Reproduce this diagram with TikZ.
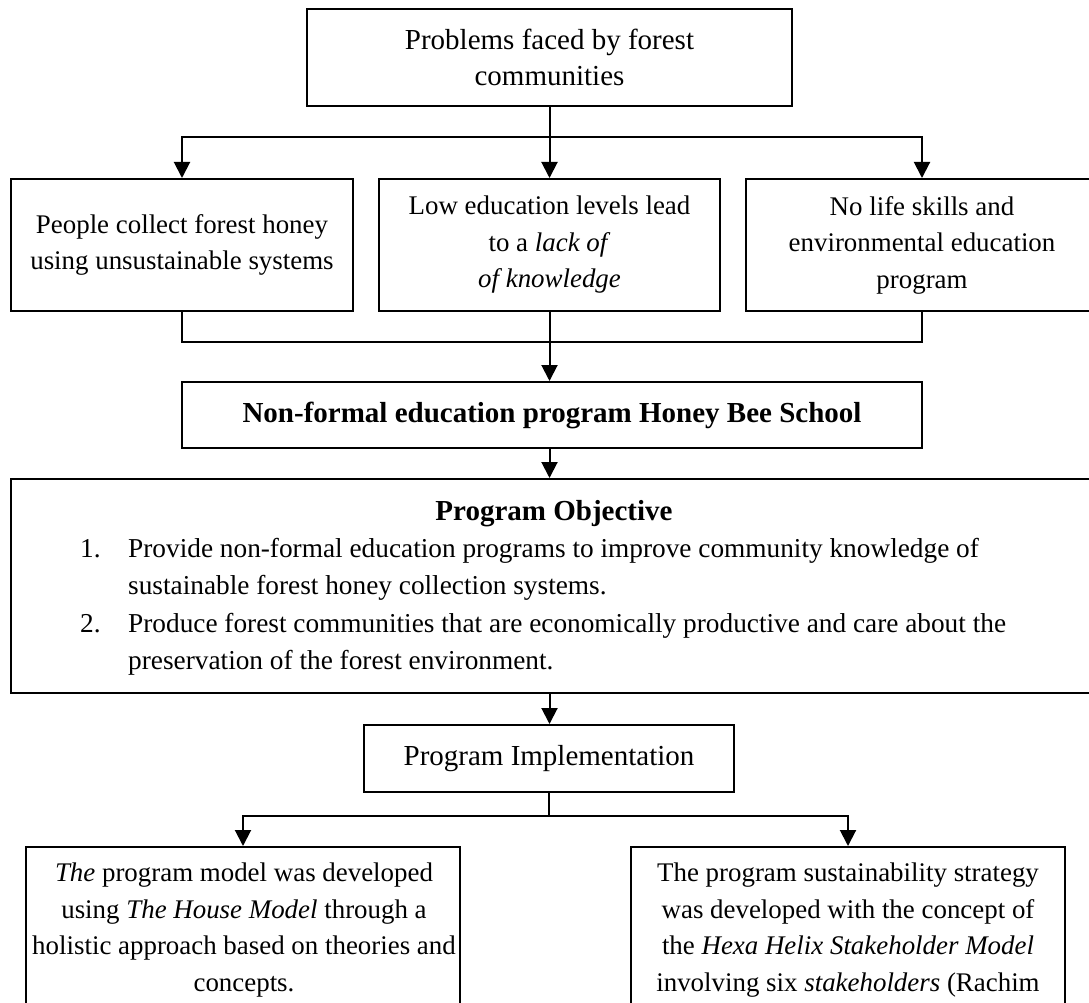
\documentclass[tikz,border=0pt]{standalone}
\usepackage{fontspec}
\setmainfont{Liberation Serif}
\usetikzlibrary{arrows.meta}
\begin{document}
\begin{tikzpicture}[x=1pt,y=-1pt,
  every node/.style={font=\fontsize{29}{36.5}\selectfont, inner sep=0pt},
  small/.style={font=\fontsize{26.9}{36.5}\selectfont},
  body/.style={font=\fontsize{27.3}{37}\selectfont},
  box/.style={draw=black, line width=2pt},
  txt/.style={align=center},
  conn/.style={line width=2pt},
  arr/.style={line width=2pt, -{Triangle[length=16pt,width=16pt]}}]
\clip (0,0) rectangle (1089,1003);
\fill[white] (0,0) rectangle (1089,1003);
\coordinate (spine) at (549.5,0);
% boxes
\node[box, txt, minimum width=485pt, minimum height=97pt] (top) at (549.5,57.5)
  {Problems faced by forest\\communities};
\node[box, txt, small, minimum width=342pt, minimum height=132pt] (b1) at (182,245)
  {People collect forest honey\\using unsustainable systems};
\node[box, txt, small, minimum width=341pt, minimum height=132pt] (b2) at (549.5,245)
  {Low education levels lead\\to a \textit{lack of}\\\textit{of knowledge}};
\node[box, txt, small, minimum width=352pt, minimum height=132pt] (b3) at (922,245)
  {No life skills and\\environmental education\\program};
\node[box, minimum width=740pt, minimum height=66pt] (nfe) at (552,415)
  {\textbf{Non-formal education program Honey Bee School}};
\node[box, minimum width=1086pt, minimum height=214pt] (obj) at (554,586) {};
\node[anchor=base] (objt) at (554,520) {\textbf{Program Objective}};
\node[body, anchor=base west] (n1) at (80,557) {1.};
\node[body, anchor=base west] (l1) at (128,557) {Provide non-formal education programs to improve community knowledge of};
\node[body, anchor=base west] (l2) at (128,594) {sustainable forest honey collection systems.};
\node[body, anchor=base west] (n2) at (80,632) {2.};
\node[body, anchor=base west] (l3) at (128,632) {Produce forest communities that are economically productive and care about the};
\node[body, anchor=base west] (l4) at (128,669) {preservation of the forest environment.};
\node[box, minimum width=370pt, minimum height=67pt] (impl) at (549,758.5) {Program Implementation};
\node[box, minimum width=434pt, minimum height=203pt] (bl) at (243,948.5) {};
\node[box, minimum width=434pt, minimum height=203pt] (br) at (848,948.5) {};
\node[txt, small, anchor=north] (blt) at (244,863)
  {\textit{The} program model was developed\\using \textit{The House Model} through a\\holistic approach based on theories and\\concepts.};
\node[txt, small, anchor=north] (brt) at (848,863)
  {The program sustainability strategy\\was developed with the concept of\\the \textit{Hexa Helix Stakeholder Model}\\involving six \textit{stakeholders} (Rachim};
% junctions
\coordinate (j1) at (549.5,137);
\coordinate (j2) at (549.5,342);
\coordinate (j3) at (549,816);
% connectors
\draw[arr] (top.south) -- (b2.north);
\draw[arr] (j1) -| (b1.north);
\draw[arr] (j1) -| (b3.north);
\draw[conn] (b1.south) |- (j2);
\draw[conn] (b3.south) |- (j2);
\draw[arr] (b2.south) -- (b2.south |- nfe.north);
\draw[arr] (spine |- nfe.south) -- (spine |- obj.north);
\draw[arr] (spine |- obj.south) -- (spine |- impl.north);
\draw[conn] (impl.south) -- (j3);
\draw[arr] (j3) -| (bl.north);
\draw[arr] (j3) -| (br.north);
\end{tikzpicture}
\end{document}
